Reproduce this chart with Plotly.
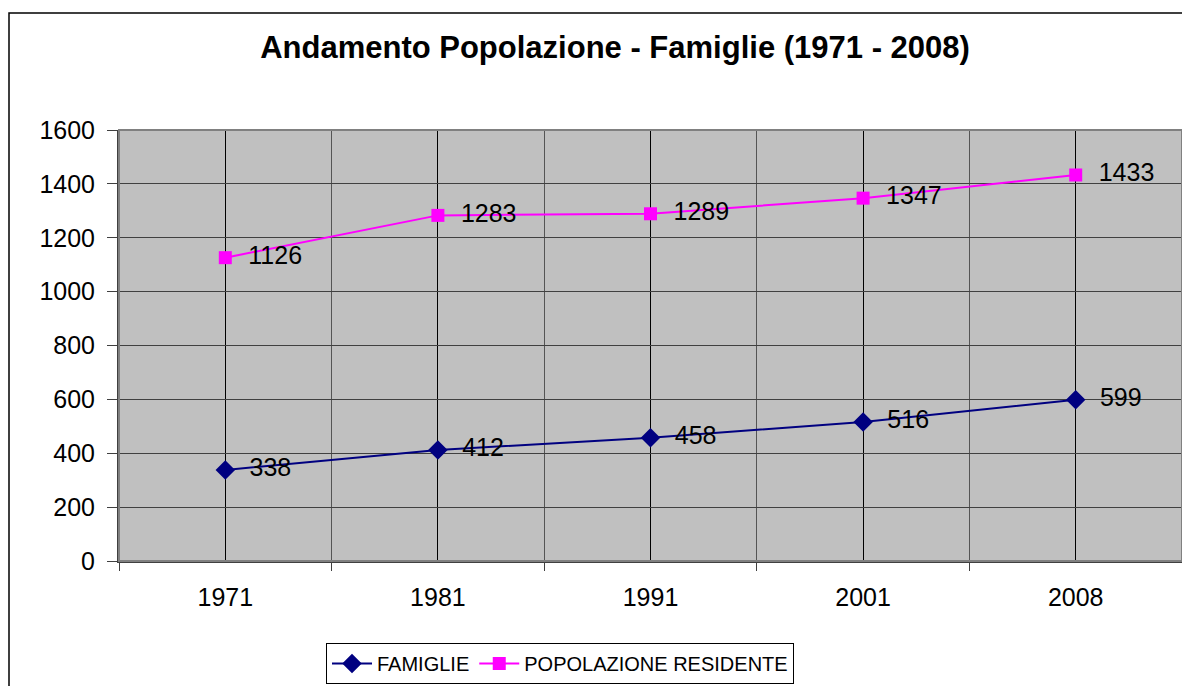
import plotly.graph_objects as go

years = ["1971", "1981", "1991", "2001", "2008"]
famiglie = [338, 412, 458, 516, 599]
popolazione = [1126, 1283, 1289, 1347, 1433]
y_ticks = [0, 200, 400, 600, 800, 1000, 1200, 1400, 1600]

xpos = list(range(len(years)))
FONT = "Liberation Sans, Arial, sans-serif"

fig = go.Figure()
fig.add_trace(go.Scatter(
    x=xpos, y=famiglie, name="FAMIGLIE", mode="lines+markers+text",
    line=dict(color="#000080", width=2),
    marker=dict(symbol="diamond", size=15, color="#000080"),
    text=["  " + str(v) for v in famiglie], textposition="middle right",
    textfont=dict(family=FONT, size=25, color="#000000"),
))
fig.add_trace(go.Scatter(
    x=xpos, y=popolazione, name="POPOLAZIONE RESIDENTE", mode="lines+markers+text",
    line=dict(color="#FF00FF", width=2),
    marker=dict(symbol="square", size=13, color="#FF00FF"),
    text=["  " + str(v) for v in popolazione], textposition="middle right",
    textfont=dict(family=FONT, size=25, color="#000000"),
))

# page is offset by 8px (body margin); work in page pixel coords
OFF = 8
W, H = 1190 - OFF, 686 - OFF
PL, PR, PT, PB = 119, 1182, 130, 561  # plot area in page pixels
L, T = PL - OFF, PT - OFF
R = W - (PR - OFF)
B = H - (PB - OFF)
pw, ph = PR - PL, PB - PT

def px_x(px):
    return (px - PL) / pw

def px_y(py):
    return (PB - py) / ph

fig.update_layout(
    width=W, height=H,
    margin=dict(l=L, r=R, t=T, b=B, autoexpand=False),
    paper_bgcolor="white",
    plot_bgcolor="#C0C0C0",
    font=dict(family=FONT, size=25, color="#000000"),
    title=dict(text="<b>Andamento Popolazione - Famiglie (1971 - 2008)</b>",
               x=px_x(615), xref="paper", xanchor="center",
               y=1 - (47 - OFF) / H, yanchor="middle",
               font=dict(family=FONT, size=31, color="#000000")),
    showlegend=True,
    legend=dict(orientation="h", x=px_x(560), xanchor="center",
                y=px_y(643), yanchor="top",
                bordercolor="#000000", borderwidth=1, bgcolor="white",
                font=dict(family=FONT, size=20),
                itemwidth=40, tracegroupgap=0),
    xaxis=dict(
        range=[-0.5, len(years) - 0.5],
        tickmode="array", tickvals=xpos, ticktext=years,
        ticks="", showgrid=True, gridcolor="#000000", gridwidth=1,
        showline=True, linecolor="#404040", linewidth=2,
        ticklabelstandoff=13,
        minor=dict(tickmode="linear", tick0=-0.5, dtick=1, ticks="outside",
                   ticklen=8, tickcolor="#404040", showgrid=True,
                   gridcolor="#555555", gridwidth=1),
        zeroline=False, fixedrange=True,
    ),
    yaxis=dict(
        range=[0, 1600], tickmode="array", tickvals=y_ticks,
        ticks="outside", ticklen=10, tickcolor="#404040",
        showgrid=True, gridcolor="#404040", gridwidth=1,
        showline=True, linecolor="#404040", linewidth=2,
        ticklabelstandoff=7,
        zeroline=False, fixedrange=True,
    ),
    shapes=[
        dict(type="rect", xref="paper", yref="paper",
             x0=0, x1=1, y0=0, y1=1, line=dict(color="#808080", width=2),
             fillcolor="rgba(0,0,0,0)", layer="above"),
        dict(type="rect", xref="paper", yref="paper",
             x0=px_x(9), x1=px_x(1200), y0=px_y(13), y1=px_y(700),
             line=dict(color="#000000", width=1.5),
             fillcolor="rgba(0,0,0,0)", layer="above"),
    ],
)

fig.write_html("out.html")
